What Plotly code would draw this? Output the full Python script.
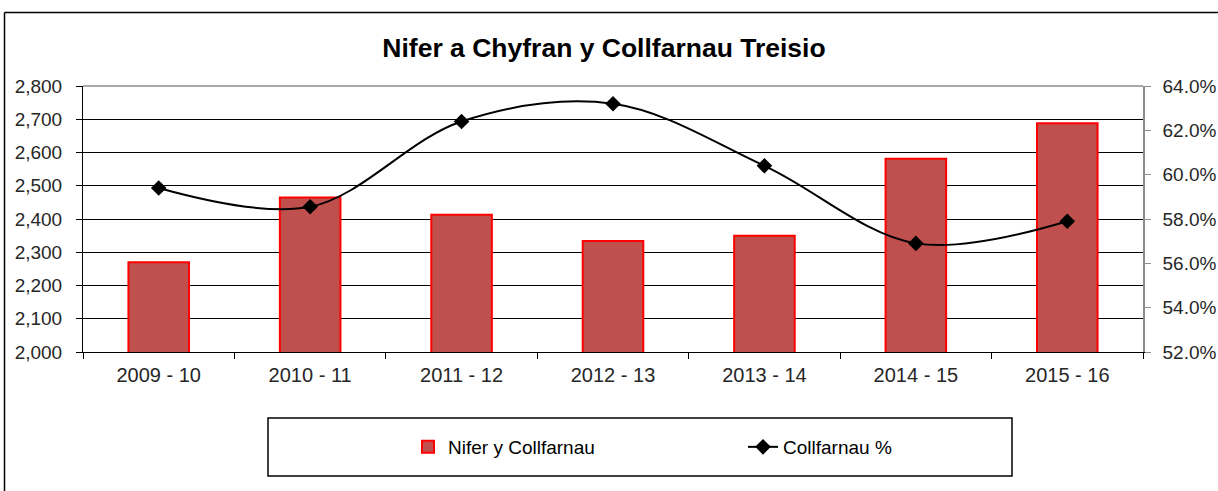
import plotly.graph_objects as go

# data
categories = ['2009 - 10', '2010 - 11', '2011 - 12', '2012 - 13', '2013 - 14', '2014 - 15', '2015 - 16']
convictions = [2270, 2465, 2413, 2334, 2350, 2581, 2688]
conviction_rate = [0.594, 0.5855, 0.624, 0.632, 0.604, 0.569, 0.579]

FONT = 'Liberation Sans, Arial, sans-serif'

# plot area in pixels (for placing paper-coordinate shapes)
L, R, T, B = 83, 1143, 86, 352
W, H = 1218, 491


def px_x(x):
    return (x - L) / (R - L)


def px_y(y):
    return (B - y) / (B - T)


fig = go.Figure()
fig.add_trace(go.Bar(
    x=categories, y=convictions, name='Nifer y Collfarnau',
    width=0.4, marker_color='#C0504D',
    marker_line_color='#FF0000', marker_line_width=2,
))
fig.add_trace(go.Scatter(
    x=categories, y=conviction_rate, name='Collfarnau %', yaxis='y2',
    mode='lines+markers', line=dict(color='black', width=2, shape='spline', smoothing=1),
    marker=dict(symbol='diamond', size=12, color='black'),
))

shapes = [
    # gray top border of plot area
    dict(type='line', xref='paper', yref='paper', x0=0, x1=1, y0=1, y1=1,
         line=dict(color='#8c8c8c', width=1.5), layer='above'),
    # outer chart frame (top and left edges visible)
    dict(type='line', xref='paper', yref='paper', x0=px_x(4.5), x1=px_x(1240),
         y0=px_y(12.5), y1=px_y(12.5), line=dict(color='black', width=1.5)),
    dict(type='line', xref='paper', yref='paper', x0=px_x(4.5), x1=px_x(4.5),
         y0=px_y(12.5), y1=px_y(520), line=dict(color='black', width=1.5)),
    # legend box
    dict(type='rect', xref='paper', yref='paper', x0=px_x(268), x1=px_x(1012),
         y0=px_y(418), y1=px_y(476), line=dict(color='black', width=1.5)),
]

fig.update_layout(
    width=W, height=H,
    margin=dict(l=L, r=W - R, t=T, b=H - B, autoexpand=False),
    plot_bgcolor='white', paper_bgcolor='white',
    font=dict(family=FONT, size=19, color='#262626'),
    title=dict(text='<b>Nifer a Chyfran y Collfarnau Treisio</b>', x=px_x(604), xanchor='center',
               xref='paper', y=1 - 48 / H, yanchor='middle',
               font=dict(family=FONT, size=26.5, color='black')),
    xaxis=dict(showgrid=False, showline=True, linecolor='black', linewidth=1, automargin=False,
               ticks='outside', tickson='boundaries', ticklen=6, tickcolor='black',
               tickfont=dict(size=20), ticklabelstandoff=5),
    yaxis=dict(range=[2000, 2800], dtick=100, tickformat=',d', showgrid=True, automargin=False,
               gridcolor='black', gridwidth=1, showline=True, linecolor='black',
               ticks='outside', ticklen=6, tickcolor='black', zeroline=False,
               ticklabelstandoff=10),
    yaxis2=dict(range=[0.52, 0.64], dtick=0.02, tickformat='.1%', overlaying='y', automargin=False,
                side='right', showgrid=False, showline=True, linecolor='#8c8c8c',
                linewidth=1.5, ticks='outside', ticklen=6, tickcolor='#8c8c8c', zeroline=False,
                ticklabelstandoff=8),
    showlegend=True,
    legend=dict(orientation='h', x=px_x(408), xanchor='left', y=px_y(447), yanchor='middle',
                entrywidth=290, bgcolor='rgba(0,0,0,0)', font=dict(size=19, color='black')),
    shapes=shapes,
)

# drop the default page margin so the figure sits at the window's top-left corner
fig.write_html('out.html', config={'displayModeBar': False},
               post_script="document.body.style.margin='0';")
